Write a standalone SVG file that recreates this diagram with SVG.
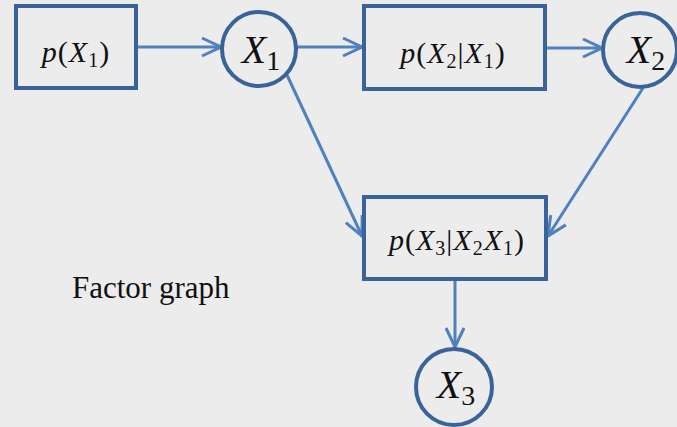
<svg xmlns="http://www.w3.org/2000/svg" width="677" height="427" viewBox="0 0 677 427">
<style>
.box{fill:none;stroke:#3A6499;stroke-width:4}
.node{fill:none;stroke:#3A6499;stroke-width:4}
.edge{fill:none;stroke:#4F81BD;stroke-width:3}
.lbl{font-family:'Liberation Serif','Times New Roman',serif;fill:#111;text-anchor:middle}
.s{font-size:30px;letter-spacing:1px}
.b{font-size:40px}
.sub{font-size:20px}
.bsub{font-size:28px}
.i{font-style:italic}
.cap{font-family:'Liberation Serif','Times New Roman',serif;font-size:31px;fill:#111}
</style>
<defs>
<marker id="arr" viewBox="0 0 22 22" refX="20" refY="11" markerWidth="22" markerHeight="22" markerUnits="userSpaceOnUse" orient="auto">
<path d="M1,2 L20,11 L1,20" fill="none" stroke="#4F81BD" stroke-width="3"/>
</marker>
</defs>
<rect width="677" height="427" fill="#ECECEC"/>
<g id="connectors">
<line class="edge" x1="137" y1="47" x2="221" y2="47" marker-end="url(#arr)"/>
<line class="edge" x1="297" y1="47" x2="362" y2="47" marker-end="url(#arr)"/>
<line class="edge" x1="546" y1="48" x2="602" y2="48" marker-end="url(#arr)"/>
<line class="edge" x1="287" y1="75" x2="362" y2="236" marker-end="url(#arr)"/>
<line class="edge" x1="643" y1="88" x2="548" y2="236" marker-end="url(#arr)"/>
<line class="edge" x1="455" y1="280" x2="455" y2="347" marker-end="url(#arr)"/>
</g>
<g id="f1">
<rect class="box" x="16" y="6" width="120" height="82"/>
<text class="lbl s" x="76" y="62"><tspan class="i">p</tspan>(<tspan class="i">X</tspan><tspan class="sub" dy="5">1</tspan><tspan dy="-5">)</tspan></text>
</g>
<g id="x1">
<circle class="node" cx="259" cy="49" r="37"/>
<text class="lbl b" x="261" y="63"><tspan class="i">X</tspan><tspan class="bsub" dy="7">1</tspan></text>
</g>
<g id="f2">
<rect class="box" x="364" y="6" width="181" height="83"/>
<text class="lbl s" x="453" y="63"><tspan class="i">p</tspan>(<tspan class="i">X</tspan><tspan class="sub" dy="5">2</tspan><tspan dy="-5">|</tspan><tspan class="i">X</tspan><tspan class="sub" dy="5">1</tspan><tspan dy="-5">)</tspan></text>
</g>
<g id="x2">
<circle class="node" cx="640" cy="50" r="37"/>
<text class="lbl b" x="646" y="63"><tspan class="i">X</tspan><tspan class="bsub" dy="7">2</tspan></text>
</g>
<g id="f3">
<rect class="box" x="364" y="197" width="182" height="82"/>
<text class="lbl s" x="457" y="250"><tspan class="i">p</tspan>(<tspan class="i">X</tspan><tspan class="sub" dy="5">3</tspan><tspan dy="-5">|</tspan><tspan class="i">X</tspan><tspan class="sub" dy="5">2</tspan><tspan class="i" dy="-5">X</tspan><tspan class="sub" dy="5">1</tspan><tspan dy="-5">)</tspan></text>
</g>
<g id="x3">
<circle class="node" cx="454" cy="387" r="38"/>
<text class="lbl b" x="456" y="398"><tspan class="i">X</tspan><tspan class="bsub" dy="7">3</tspan></text>
</g>
<text class="cap" x="72" y="298">Factor graph</text>
</svg>
